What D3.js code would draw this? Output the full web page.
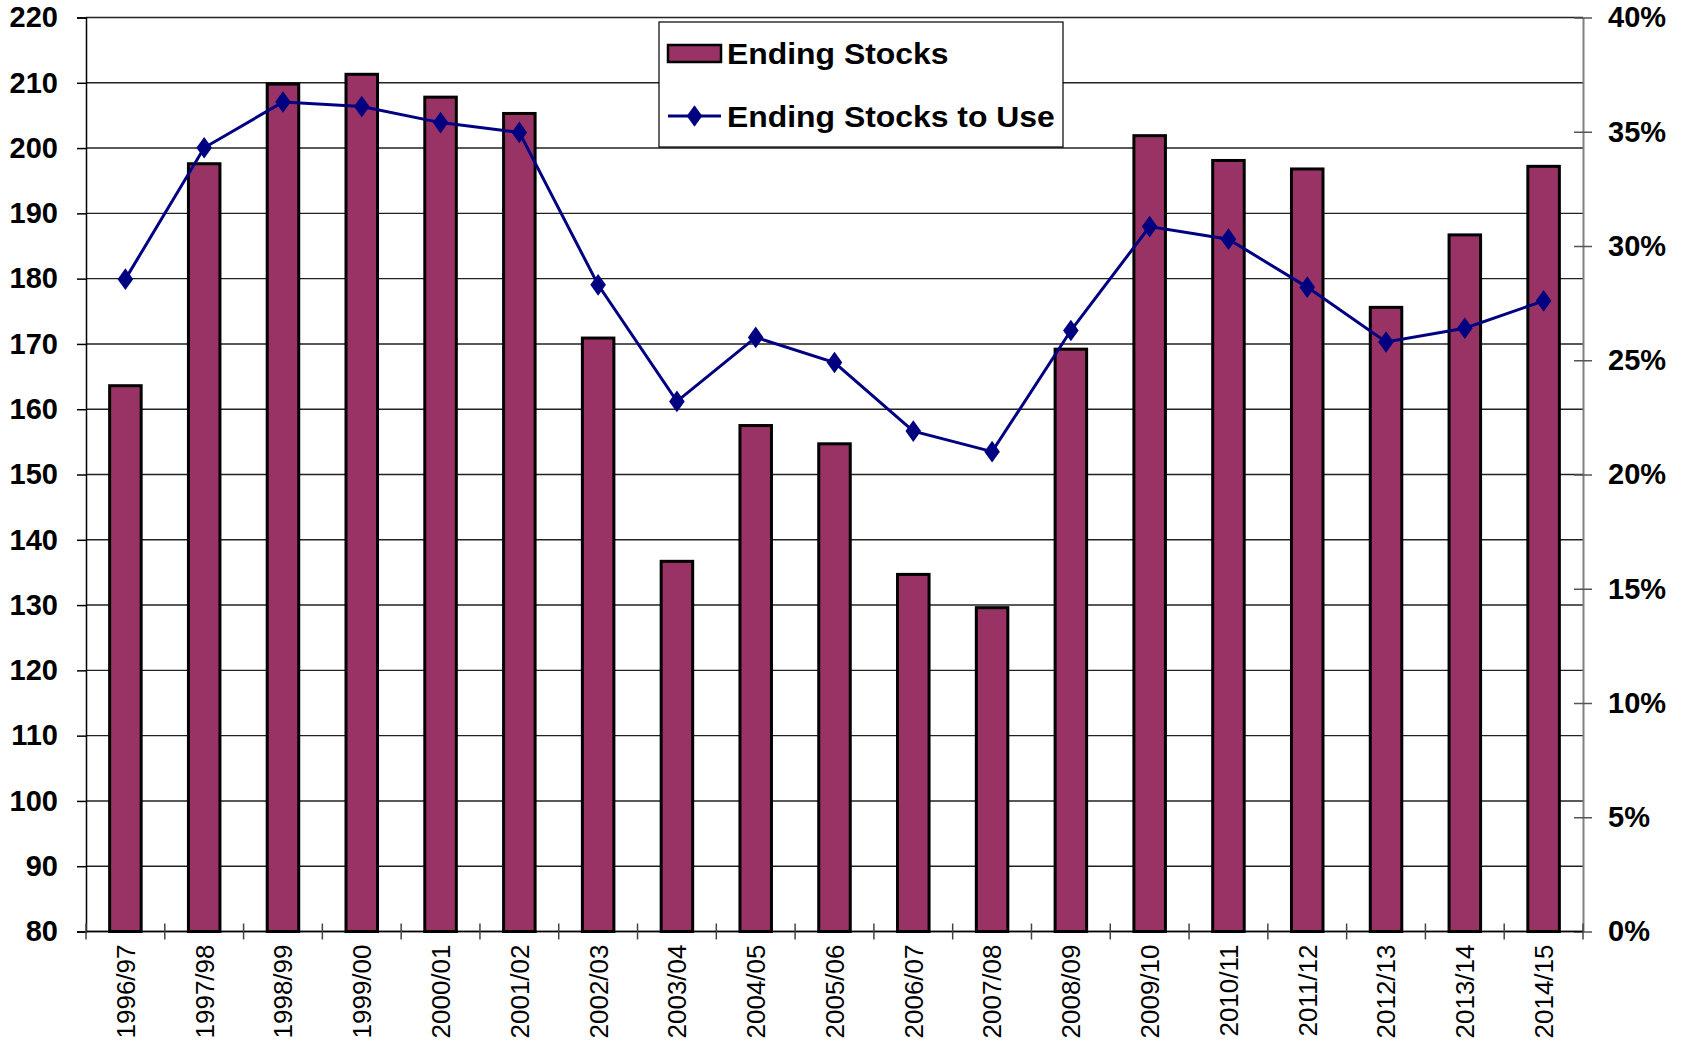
<!DOCTYPE html>
<meta charset="utf-8">
<style>
  body { margin: 0; background: #fff; }
  text { font-family: "Liberation Sans", Arial, sans-serif; }
  .ylab { font-size: 29px; font-weight: bold; }
  .xlab { font-size: 26px; }
  .leg { font-size: 29px; font-weight: bold; }
</style>
<body>
<script src="https://cdn.jsdelivr.net/npm/d3@7"></script>
<script>

// marketing years
var years = ["1996/97", "1997/98", "1998/99", "1999/00", "2000/01", "2001/02", "2002/03",
    "2003/04", "2004/05", "2005/06", "2006/07", "2007/08", "2008/09", "2009/10",
    "2010/11", "2011/12", "2012/13", "2013/14", "2014/15"];

// ending stocks (left axis)
var endingStocks = [163.6, 197.6, 209.8, 211.3, 207.8, 205.3, 170.9, 136.7, 157.5, 154.7,
    134.7, 129.6, 169.2, 201.9, 198.1, 196.8, 175.6, 186.7, 197.2];

// ending stocks to use, percent (right axis)
var stocksToUse = [28.55, 34.3, 36.3, 36.1, 35.4, 34.97, 28.3, 23.2, 26.0, 24.9,
    21.9, 21.0, 26.3, 30.85, 30.3, 28.2, 25.8, 26.4, 27.6];

var leftTicks = d3.range(80, 221, 10);
var rightTicks = d3.range(0, 41, 5);

// set the dimensions and margins of the graph
var margin = {top: 17.5, left: 86},
    width = 1497,
    height = 914;

var svg = d3.select("body").append("svg")
    .attr("width", 1686)
    .attr("height", 1045)
    .append("g")
    .attr("transform", "translate(" + margin.left + "," + margin.top + ")");

var x = d3.scaleBand().domain(years).range([0, width]).paddingInner(0.6).paddingOuter(0.3);
var xc = d3.scaleBand().domain(years).range([0, width]);
var y = d3.scaleLinear().domain([80, 220]).range([height, 0]);
var y2 = d3.scaleLinear().domain([0, 40]).range([height, 0]);

// gridlines
svg.selectAll(".grid")
    .data(leftTicks)
    .enter().append("line")
    .attr("x1", 0).attr("x2", width)
    .attr("y1", function (d) { return y(d); })
    .attr("y2", function (d) { return y(d); })
    .attr("stroke", "#222")
    .attr("stroke-width", 1.4);

// bars
svg.selectAll(".bar")
    .data(endingStocks)
    .enter().append("rect")
    .attr("x", function (d, i) { return x(years[i]); })
    .attr("width", x.bandwidth())
    .attr("y", function (d) { return y(d); })
    .attr("height", function (d) { return height - y(d); })
    .attr("fill", "#993366")
    .attr("stroke", "#000")
    .attr("stroke-width", 3);

// left axis
var la = svg.append("g")
    .call(d3.axisLeft(y).tickValues(leftTicks).tickSize(9).tickPadding(19));
la.select(".domain").attr("stroke", "#000").attr("stroke-width", 1.5);
la.selectAll("line").attr("stroke", "#000").attr("stroke-width", 1.5);
la.selectAll("text").attr("class", "ylab").attr("fill", "#000");

// right axis
var ra = svg.append("g")
    .attr("transform", "translate(" + width + ",0)")
    .call(d3.axisRight(y2).tickValues(rightTicks).tickSize(0).tickPadding(25)
        .tickFormat(function (d) { return d + "%"; }));
ra.select(".domain").attr("stroke", "#808080").attr("stroke-width", 2);
ra.selectAll(".tick").append("line")
    .attr("x1", -9).attr("x2", 9)
    .attr("stroke", "#555").attr("stroke-width", 1.5);
ra.selectAll("text").attr("class", "ylab").attr("fill", "#000");

// bottom axis with ticks between categories
svg.append("line")
    .attr("x1", 0).attr("x2", width)
    .attr("y1", height).attr("y2", height)
    .attr("stroke", "#000").attr("stroke-width", 1.5);
svg.selectAll(".xtick")
    .data(d3.range(years.length + 1))
    .enter().append("line")
    .attr("x1", function (i) { return i * xc.step(); })
    .attr("x2", function (i) { return i * xc.step(); })
    .attr("y1", height - 8).attr("y2", height + 8)
    .attr("stroke", "#444").attr("stroke-width", 1.5);
svg.selectAll(".xlab")
    .data(years)
    .enter().append("text")
    .attr("class", "xlab")
    .attr("transform", function (d) {
        return "translate(" + (xc(d) + xc.bandwidth() / 2) + "," + (height + 13) + ") rotate(-90)";
    })
    .attr("text-anchor", "end")
    .attr("dy", "0.36em")
    .text(function (d) { return d; });

// stocks to use line
var line = d3.line()
    .x(function (d, i) { return xc(years[i]) + xc.bandwidth() / 2; })
    .y(function (d) { return y2(d); });

svg.append("path")
    .datum(stocksToUse)
    .attr("fill", "none")
    .attr("stroke", "#000080")
    .attr("stroke-width", 3)
    .attr("d", line);

var diamond = d3.symbol().type(d3.symbolDiamond).size(135);
svg.selectAll(".pt")
    .data(stocksToUse)
    .enter().append("path")
    .attr("d", diamond)
    .attr("transform", function (d, i) {
        return "translate(" + (xc(years[i]) + xc.bandwidth() / 2) + "," + y2(d) + ") scale(1.25,1)";
    })
    .attr("fill", "#000080");

// legend
var lg = svg.append("g").attr("transform", "translate(" + (659 - margin.left) + "," + (22 - margin.top) + ")");
lg.append("rect")
    .attr("width", 404).attr("height", 125)
    .attr("fill", "#fff").attr("stroke", "#000").attr("stroke-width", 1.2);
lg.append("rect")
    .attr("x", 9).attr("y", 23).attr("width", 53).attr("height", 17)
    .attr("fill", "#993366").attr("stroke", "#000").attr("stroke-width", 2.5);
lg.append("text").attr("class", "leg")
    .attr("transform", "translate(68,42) scale(1.1,1)")
    .text("Ending Stocks");
lg.append("line")
    .attr("x1", 9).attr("x2", 62).attr("y1", 94).attr("y2", 94)
    .attr("stroke", "#000080").attr("stroke-width", 3);
lg.append("path")
    .attr("d", diamond)
    .attr("transform", "translate(35.5,94) scale(1.25,1)")
    .attr("fill", "#000080");
lg.append("text").attr("class", "leg")
    .attr("transform", "translate(68,105) scale(1.1,1)")
    .text("Ending Stocks to Use");

</script>
</body>
